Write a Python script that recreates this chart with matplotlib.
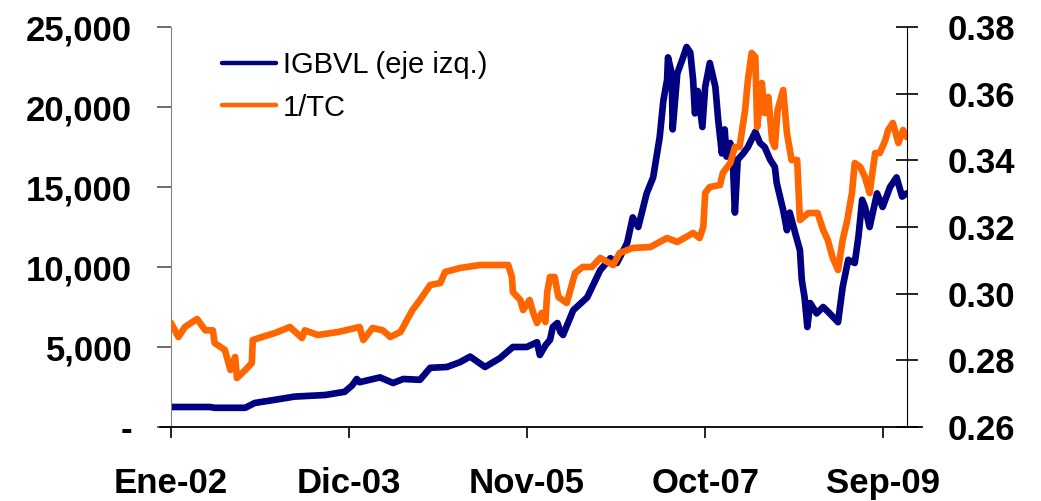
import matplotlib
matplotlib.use("Agg")
import matplotlib.pyplot as plt
from matplotlib.lines import Line2D

# ---- data (decimal year, value) ----
igbvl_t = [2002.00, 2002.42, 2002.47, 2002.80, 2002.90, 2003.12, 2003.33, 2003.66, 2003.87, 2003.95,
           2004.00, 2004.03, 2004.25, 2004.39, 2004.50, 2004.68, 2004.79, 2004.97, 2005.11, 2005.22,
           2005.38, 2005.54, 2005.68, 2005.83, 2005.94, 2005.97, 2006.03, 2006.08, 2006.11, 2006.16,
           2006.19, 2006.22, 2006.33, 2006.48, 2006.62, 2006.73, 2006.80, 2006.91, 2006.97, 2007.03,
           2007.12, 2007.19, 2007.26, 2007.30, 2007.34, 2007.35, 2007.39, 2007.40, 2007.45, 2007.50,
           2007.55, 2007.59, 2007.62, 2007.64, 2007.67, 2007.72, 2007.75, 2007.80, 2007.86, 2007.89,
           2007.93, 2007.96, 2007.98, 2008.02, 2008.05, 2008.07, 2008.10, 2008.16, 2008.21, 2008.29,
           2008.34, 2008.39, 2008.45, 2008.50, 2008.52, 2008.59, 2008.63, 2008.66, 2008.72, 2008.77,
           2008.79, 2008.82, 2008.85, 2008.88, 2008.95, 2009.02, 2009.09, 2009.18, 2009.23, 2009.29,
           2009.36, 2009.40, 2009.44, 2009.47, 2009.52, 2009.60, 2009.66, 2009.74, 2009.81, 2009.87,
           2009.92]
igbvl_v = [1250, 1250, 1200, 1200, 1500, 1700, 1900, 2000, 2200, 2600,
           3000, 2800, 3100, 2750, 3000, 2950, 3700, 3750, 4050, 4400,
           3750, 4300, 5000, 5000, 5300, 4500, 5100, 5450, 6250, 6500,
           5950, 5750, 7300, 8100, 9800, 10550, 10250, 11500, 13100, 12500,
           14600, 15600, 18100, 20400, 21700, 23100, 22100, 18600, 22100, 22900,
           23750, 23400, 21700, 19600, 21000, 18750, 21250, 22750, 21250, 19200,
           17100, 18600, 16900, 17750, 16250, 13400, 16700, 17100, 17500, 18450,
           17750, 17500, 16700, 16250, 15250, 13550, 12300, 13400, 12100, 11050,
           9200, 8100, 6250, 7750, 7100, 7500, 7100, 6550, 8750, 10450,
           10250, 11900, 14200, 13750, 12500, 14600, 13750, 15000, 15600, 14400,
           14600]

tc_t = [2002.00, 2002.08, 2002.15, 2002.28, 2002.37, 2002.45, 2002.47, 2002.58, 2002.64, 2002.69,
        2002.71, 2002.80, 2002.87, 2002.88, 2002.98, 2003.12, 2003.28, 2003.41, 2003.44, 2003.58,
        2003.80, 2004.03, 2004.07, 2004.17, 2004.28, 2004.36, 2004.47, 2004.54, 2004.60, 2004.68,
        2004.79, 2004.90, 2004.95, 2005.11, 2005.33, 2005.63, 2005.67, 2005.68, 2005.76, 2005.79,
        2005.86, 2005.90, 2005.94, 2005.99, 2006.03, 2006.05, 2006.08, 2006.13, 2006.17, 2006.26,
        2006.35, 2006.43, 2006.53, 2006.62, 2006.76, 2006.83, 2006.97, 2007.16, 2007.34, 2007.45,
        2007.62, 2007.69, 2007.73, 2007.75, 2007.80, 2007.91, 2007.94, 2008.02, 2008.07, 2008.12,
        2008.18, 2008.21, 2008.25, 2008.29, 2008.31, 2008.36, 2008.39, 2008.43, 2008.47, 2008.50,
        2008.53, 2008.59, 2008.63, 2008.68, 2008.74, 2008.77, 2008.86, 2008.96, 2009.02, 2009.07,
        2009.12, 2009.18, 2009.23, 2009.28, 2009.33, 2009.36, 2009.42, 2009.47, 2009.52, 2009.58,
        2009.63, 2009.69, 2009.72, 2009.77, 2009.83, 2009.88, 2009.92]
tc_v = [0.2912, 0.2870, 0.2900, 0.2924, 0.2890, 0.2890, 0.2852, 0.2831, 0.2771, 0.2810,
        0.2747, 0.2771, 0.2792, 0.2861, 0.2870, 0.2882, 0.2900, 0.2867, 0.2890, 0.2876,
        0.2885, 0.2900, 0.2861, 0.2897, 0.2890, 0.2870, 0.2885, 0.2921, 0.2951, 0.2981,
        0.3026, 0.3032, 0.3065, 0.3077, 0.3086, 0.3086, 0.3050, 0.3005, 0.2981, 0.2951,
        0.2981, 0.2942, 0.2912, 0.2942, 0.2915, 0.3005, 0.3050, 0.3050, 0.2990, 0.2972,
        0.3062, 0.3080, 0.3080, 0.3107, 0.3086, 0.3122, 0.3137, 0.3140, 0.3167, 0.3155,
        0.3182, 0.3167, 0.3200, 0.3302, 0.3320, 0.3326, 0.3362, 0.3392, 0.3440, 0.3440,
        0.3551, 0.3641, 0.3722, 0.3710, 0.3500, 0.3632, 0.3542, 0.3590, 0.3461, 0.3440,
        0.3551, 0.3611, 0.3482, 0.3401, 0.3401, 0.3221, 0.3242, 0.3242, 0.3191, 0.3161,
        0.3110, 0.3071, 0.3161, 0.3221, 0.3302, 0.3392, 0.3380, 0.3350, 0.3302, 0.3422,
        0.3422, 0.3461, 0.3491, 0.3512, 0.3452, 0.3491, 0.3470]

xtick_pos = [2002.0, 2003 + 11 / 12, 2005 + 10 / 12, 2007 + 9 / 12, 2009 + 8 / 12]
xtick_labels = ["Ene-02", "Dic-03", "Nov-05", "Oct-07", "Sep-09"]
left_ticks = [0, 5000, 10000, 15000, 20000, 25000]
left_labels = ["-", "5,000", "10,000", "15,000", "20,000", "25,000"]
right_ticks = [0.26, 0.28, 0.30, 0.32, 0.34, 0.36, 0.38]
right_labels = ["0.26", "0.28", "0.30", "0.32", "0.34", "0.36", "0.38"]
series_names = ["IGBVL (eje izq.)", "1/TC"]

BLUE = "#000080"
ORANGE = "#FF6600"

plt.rcParams['font.family'] = ['Liberation Sans', 'DejaVu Sans']

W, H = 1041, 501
fig = plt.figure(figsize=(W / 100, H / 100), dpi=100)
ax = fig.add_axes([171 / W, 74 / H, 736 / W, 400 / H])
ax2 = ax.twinx()

l1, = ax.plot(igbvl_t, igbvl_v, color=BLUE, lw=4.8, solid_joinstyle='round', solid_capstyle='round')
l2, = ax2.plot(tc_t, tc_v, color=ORANGE, lw=4.8, solid_joinstyle='round', solid_capstyle='round')

ax.set_xlim(2002.0, 2002 + 736 / 92.9)
ax.set_ylim(0, 25000)
ax2.set_ylim(0.26, 0.38)

FS = 25
ax.set_xticks(xtick_pos)
ax.set_xticklabels(xtick_labels, fontsize=FS, fontweight='bold')
ax.set_yticks(left_ticks)
ax.set_yticklabels(left_labels, fontsize=FS, fontweight='bold')
ax2.set_yticks(right_ticks)
ax2.set_yticklabels(right_labels, fontsize=FS, fontweight='bold')

for a in (ax, ax2):
    a.spines['top'].set_visible(False)
ax.spines['right'].set_visible(False)
ax.spines['left'].set_color('#808080')
ax.spines['bottom'].set_visible(False)
ax2.spines['bottom'].set_visible(False)
ax2.spines['left'].set_visible(False)
ax2.spines['right'].set_color('black')

ax.tick_params(axis='y', direction='out', length=10, width=1.2, color='#555555', pad=18)
ax.tick_params(axis='x', direction='out', length=8, width=1.2, color='black', pad=21)
ax2.tick_params(axis='y', direction='inout', length=16, width=1.2, color='black', pad=21)

# x-axis line extending slightly beyond the plot area
fig.add_artist(Line2D([160 / W, 922 / W], [74 / H, 74 / H], color='black', lw=1.3,
                      transform=fig.transFigure))

leg = ax2.legend([l1, l2], series_names, loc='upper left', bbox_to_anchor=(0.069, 0.94),
                 frameon=False, fontsize=21, handlelength=1.85, handletextpad=0.25,
                 labelspacing=0.5, borderaxespad=0, borderpad=0)
for ln in leg.get_lines():
    ln.set_linewidth(3.2)

fig.savefig("out.png", dpi=100)
